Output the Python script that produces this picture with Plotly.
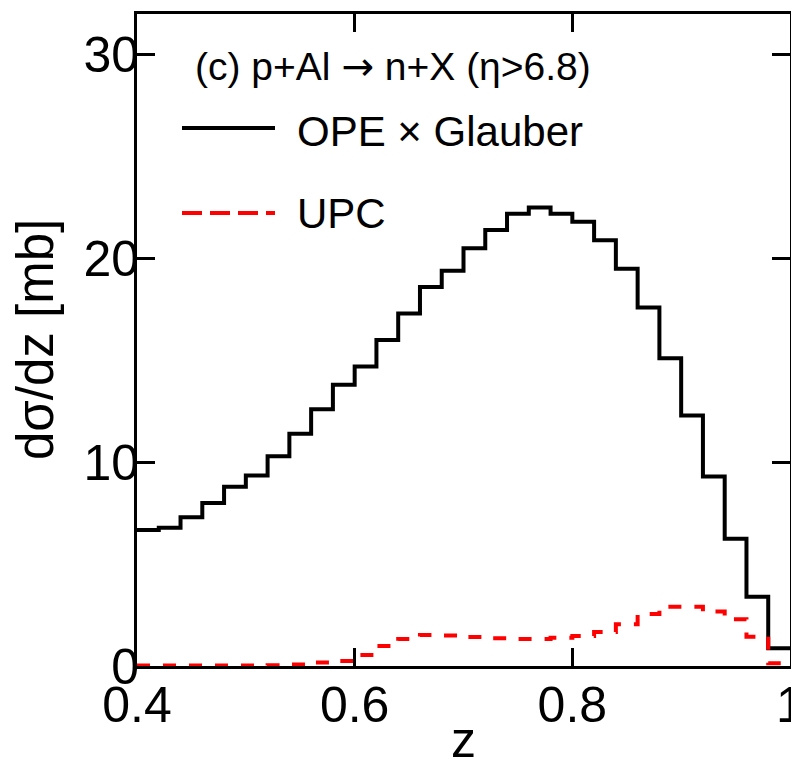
import plotly.graph_objects as go

# Bin edges in z (width 0.02)
z_edges = [0.40, 0.42, 0.44, 0.46, 0.48, 0.50, 0.52, 0.54, 0.56, 0.58,
           0.60, 0.62, 0.64, 0.66, 0.68, 0.70, 0.72, 0.74, 0.76, 0.78,
           0.80, 0.82, 0.84, 0.86, 0.88, 0.90, 0.92, 0.94, 0.96, 0.98, 1.00]

# dsigma/dz [mb] per bin
ope_glauber = [6.68, 6.78, 7.3, 8.0, 8.8, 9.35, 10.3, 11.4, 12.6, 13.8,
               14.7, 16.0, 17.3, 18.6, 19.4, 20.5, 21.4, 22.2, 22.5, 22.2,
               21.8, 20.9, 19.5, 17.6, 15.1, 12.3, 9.3, 6.24, 3.4, 0.87]
upc = [0.02, 0.02, 0.02, 0.02, 0.02, 0.02, 0.04, 0.07, 0.17, 0.25,
       0.54, 0.98, 1.33, 1.52, 1.5, 1.42, 1.36, 1.33, 1.33, 1.39,
       1.47, 1.67, 2.05, 2.55, 2.91, 2.91, 2.67, 2.3, 1.44, 0.13]

x_ticks = [0.4, 0.6, 0.8, 1.0]
x_ticklabels = ["0.4", "0.6", "0.8", "1"]
y_ticks = [0, 10, 20, 30]
y_ticklabels = ["0", "10", "20", "30"]

FONT = "Liberation Sans, Arial, Helvetica, sans-serif"

OFF = 8  # page body margin
W, H = 799 - OFF, 771 - OFF
L, R, T, B = 129, 9, 6, 105
PW, PH = W - L - R, H - T - B


def px(xpix):
    return (xpix - OFF - L) / PW


def py(ypix):
    return (H - B - (ypix - OFF)) / PH


fig = go.Figure()
fig.add_trace(go.Scatter(
    x=z_edges, y=ope_glauber + [ope_glauber[-1]], mode="lines",
    line=dict(color="black", width=4, shape="hv"), showlegend=False))
fig.add_trace(go.Scatter(
    x=z_edges, y=upc + [upc[-1]], mode="lines",
    line=dict(color="#ff0000", width=4, shape="hv", dash="13px,13px"),
    showlegend=False))

axis_common = dict(
    showline=True, linecolor="black", linewidth=3, mirror="ticks",
    ticks="inside", ticklen=18, tickwidth=2.5, tickcolor="black",
    showgrid=False, zeroline=False, ticklabeloverflow="allow",
    tickfont=dict(family=FONT, size=50, color="black"),
)

fig.update_xaxes(range=[0.4, 1.0], tickvals=x_ticks, ticktext=x_ticklabels,
                 ticklabelstandoff=-7, **axis_common)
fig.update_yaxes(range=[0, 32], tickvals=y_ticks, ticktext=y_ticklabels,
                 ticklabelstandoff=-15, **axis_common)

arrow = '<span style="font-family:DejaVu Sans">→</span>'
annotations = [
    dict(text="z", x=px(464), y=py(740), xref="paper", yref="paper",
         xanchor="center", yanchor="middle", showarrow=False,
         font=dict(family=FONT, size=50, color="black")),
    dict(text="dσ/dz [mb]", x=px(35), y=0.5, xref="paper", yref="paper",
         xanchor="center", yanchor="middle", textangle=-90, showarrow=False,
         font=dict(family=FONT, size=51, color="black")),
    dict(text="(c) p+Al " + arrow + " n+X (η>6.8)", x=px(193), y=py(67),
         xref="paper", yref="paper", xanchor="left", yanchor="middle",
         showarrow=False, font=dict(family=FONT, size=39, color="black")),
    dict(text="OPE × Glauber", x=px(295), y=py(132),
         xref="paper", yref="paper", xanchor="left", yanchor="middle",
         showarrow=False, font=dict(family=FONT, size=42, color="black")),
    dict(text="UPC", x=px(295), y=py(213),
         xref="paper", yref="paper", xanchor="left", yanchor="middle",
         showarrow=False, font=dict(family=FONT, size=42, color="black")),
]

shapes = [
    dict(type="line", xref="paper", yref="paper", x0=px(182), x1=px(275),
         y0=py(128), y1=py(128), line=dict(color="black", width=4)),
    dict(type="line", xref="paper", yref="paper", x0=px(182), x1=px(275),
         y0=py(213), y1=py(213),
         line=dict(color="#ff0000", width=4, dash="20px,8px")),
]

fig.update_layout(
    width=W, height=H,
    margin=dict(l=L, r=R, t=T, b=B, autoexpand=False),
    paper_bgcolor="white", plot_bgcolor="white",
    showlegend=False,
    annotations=annotations, shapes=shapes,
)

fig.write_html("out.html")
